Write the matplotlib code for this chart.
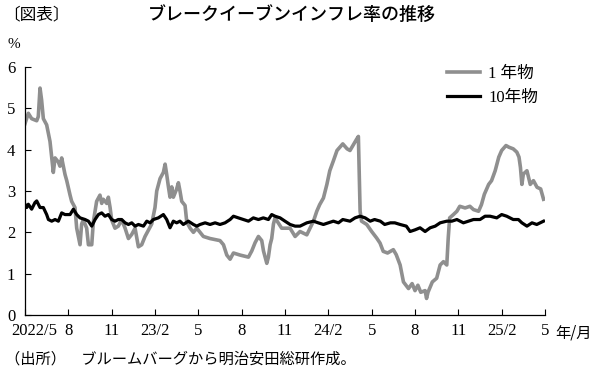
import matplotlib
matplotlib.use("Agg")
import matplotlib.pyplot as plt
import matplotlib.transforms as mtransforms

# x = months since 2022/5
gray_m = [0.00, 0.23, 0.46, 0.81, 0.92, 1.04, 1.15, 1.27, 1.50, 1.73, 1.85, 1.96, 2.08, 2.31,
          2.42, 2.54, 2.77, 2.89, 3.12, 3.23, 3.46, 3.58, 3.81, 3.92, 4.04, 4.27, 4.39, 4.62,
          4.73, 4.96, 5.19, 5.31, 5.42, 5.66, 5.77, 5.89, 6.00, 6.23, 6.46, 6.69, 6.93, 7.16,
          7.39, 7.62, 7.85, 8.08, 8.31, 8.54, 8.77, 9.00, 9.12, 9.35, 9.58, 9.70, 9.81, 9.93,
          10.04, 10.16, 10.27, 10.50, 10.62, 10.73, 10.85, 11.08, 11.20, 11.43, 11.66, 11.89,
          12.12, 12.35, 12.81, 13.50, 13.74, 13.97, 14.20, 14.43, 14.89, 15.47, 15.70, 15.93,
          16.16, 16.39, 16.51, 16.74, 16.85, 16.97, 17.08, 17.20, 17.31, 17.77, 18.35, 18.70,
          19.04, 19.51, 19.97, 20.2, 20.4, 20.66, 20.9, 21.1, 21.35, 21.6, 21.8, 22.0, 22.3,
          22.5, 22.7, 22.97, 23.08, 23.2, 23.3, 23.66, 24.0, 24.35, 24.58, 24.8, 25.1, 25.5,
          25.7, 25.97, 26.2, 26.55, 26.8, 27.0, 27.2, 27.4, 27.7, 27.8, 27.9, 28.2, 28.5,
          28.74, 28.97, 29.2, 29.3, 29.4, 29.66, 29.9, 30.1, 30.47, 30.8, 31.05, 31.4, 31.6,
          31.8, 32.1, 32.3, 32.55, 32.8, 33.0, 33.3, 33.5, 33.8, 34.05, 34.2, 34.3, 34.4,
          34.5, 34.75, 34.98, 35.2, 35.45, 35.7, 35.9]
gray_v = [4.63, 4.88, 4.75, 4.70, 4.80, 5.49, 5.20, 4.75, 4.60, 4.20, 3.80, 3.45, 3.80, 3.70,
          3.60, 3.80, 3.40, 3.25, 2.90, 2.75, 2.60, 2.10, 1.70, 2.20, 2.30, 2.10, 1.70, 1.70,
          2.25, 2.75, 2.90, 2.70, 2.80, 2.70, 2.85, 2.60, 2.30, 2.10, 2.15, 2.30, 2.10, 1.85,
          1.95, 2.10, 1.65, 1.70, 1.90, 2.05, 2.20, 2.60, 3.00, 3.30, 3.45, 3.65, 3.40, 3.10,
          2.85, 3.10, 2.85, 3.05, 3.20, 3.00, 2.75, 2.65, 2.25, 2.10, 2.00, 2.10,
          2.00, 1.90, 1.85, 1.80, 1.70, 1.45, 1.35, 1.50, 1.45, 1.40, 1.55, 1.75,
          1.90, 1.80, 1.55, 1.25, 1.40, 1.70, 1.85, 2.20, 2.35, 2.10, 2.10, 1.90,
          2.02, 1.94, 2.27, 2.51, 2.67, 2.83, 3.16, 3.49, 3.73, 3.98, 4.06, 4.14, 4.02,
          3.98, 4.10, 4.26, 4.32, 2.51, 2.27, 2.19, 2.02, 1.86, 1.74, 1.54, 1.50, 1.58,
          1.46, 1.21, 0.80, 0.64, 0.76, 0.59, 0.72, 0.55, 0.59, 0.40, 0.55, 0.80, 0.89,
          1.21, 1.29, 1.21, 1.86, 2.35, 2.43, 2.51, 2.63, 2.59, 2.63, 2.55, 2.51, 2.67,
          2.92, 3.16, 3.25, 3.49, 3.82, 3.98, 4.10, 4.06, 4.02, 3.94, 3.82, 3.57, 3.16,
          3.41, 3.49, 3.16, 3.25, 3.09, 3.05, 2.80]

black_m = [0.00, 0.12, 0.23, 0.46, 0.69, 0.81, 1.04, 1.27, 1.50, 1.62, 1.85, 2.08, 2.31, 2.54,
           2.77, 3.12, 3.35, 3.58, 3.81, 4.16, 4.39, 4.62, 4.85, 5.08, 5.31, 5.54, 5.77, 6.00,
           6.23, 6.46, 6.69, 6.93, 7.16, 7.39, 7.62, 7.85, 8.20, 8.43, 8.66, 8.89, 9.23, 9.58,
           9.81, 10.04, 10.27, 10.50, 10.73, 10.96, 11.31, 11.66, 11.89, 12.12, 12.47, 12.81,
           13.16, 13.50, 13.85, 14.20, 14.43, 14.77, 15.12, 15.47, 15.81, 16.16, 16.50, 16.85,
           17.08, 17.31, 17.66, 18.00, 18.35, 18.70, 19.04, 19.51, 19.97, 20.3, 20.66, 21.0,
           21.35, 21.7, 22.0, 22.5, 22.85, 23.2, 23.55, 23.9, 24.2, 24.6, 24.9, 25.3, 25.6,
           25.97, 26.4, 26.66, 27.0, 27.35, 27.7, 28.05, 28.4, 28.74, 29.2, 29.55, 29.9,
           30.35, 30.7, 31.05, 31.5, 31.85, 32.2, 32.66, 33.0, 33.35, 33.8, 34.16, 34.4,
           34.75, 35.1, 35.43, 35.9]
black_v = [2.68, 2.60, 2.68, 2.56, 2.72, 2.76, 2.60, 2.60, 2.43, 2.31, 2.27, 2.31, 2.27, 2.47,
           2.43, 2.43, 2.56, 2.43, 2.35, 2.31, 2.27, 2.15, 2.31, 2.43, 2.47, 2.39, 2.43, 2.31,
           2.27, 2.31, 2.31, 2.23, 2.19, 2.23, 2.15, 2.19, 2.15, 2.27, 2.23, 2.31, 2.35, 2.43,
           2.31, 2.11, 2.27, 2.23, 2.27, 2.19, 2.27, 2.19, 2.15, 2.19, 2.23, 2.19,
           2.23, 2.19, 2.23, 2.31, 2.39, 2.35, 2.31, 2.27, 2.35, 2.31, 2.35, 2.31,
           2.43, 2.39, 2.35, 2.27, 2.19, 2.15, 2.15, 2.23, 2.27, 2.23, 2.19, 2.23,
           2.27, 2.23, 2.31, 2.27, 2.35, 2.39, 2.35, 2.27, 2.31, 2.27, 2.19, 2.23, 2.23,
           2.19, 2.15, 2.02, 2.06, 2.11, 2.02, 2.11, 2.15, 2.23, 2.27, 2.27, 2.31,
           2.23, 2.27, 2.31, 2.31, 2.39, 2.39, 2.35, 2.43, 2.39, 2.31, 2.31, 2.23,
           2.15, 2.23, 2.19, 2.27]

tick_pos = [0, 3, 6, 9, 12, 15, 18, 21, 24, 27, 30, 33, 36]
tick_lab = ["2022/5", "8", "11", "23/2", "5", "8", "11", "24/2", "5", "8", "11", "25/2", "5"]

serif = ["Liberation Serif", "Noto Sans CJK JP"]
jp = ["Noto Sans CJK JP", "DejaVu Sans"]

fig = plt.figure(figsize=(6.0, 3.74), dpi=100)
ax = fig.add_axes([25 / 600, 1 - 315 / 374, 520 / 600, 248 / 374])

ax.plot(gray_m, gray_v, color="#8f8f8f", lw=2.6, solid_joinstyle="round", label="1 年物")
ax.plot(black_m, black_v, color="black", lw=2.3, solid_joinstyle="round", label="10年物")

ax.set_xlim(0, 36)
ax.set_ylim(0, 6)
ax.spines[["top", "right"]].set_visible(False)
ax.spines[["left", "bottom"]].set_linewidth(0.9)
ax.tick_params(direction="in", length=4.5, width=0.8, labelsize=12)
ax.tick_params(axis="x", pad=6)
ax.tick_params(axis="y", pad=7)
ax.set_yticks(range(7))
ax.set_xticks(tick_pos)
ax.set_xticklabels(tick_lab)
for t in ax.get_xticklabels() + ax.get_yticklabels():
    t.set_family(serif)
# first label sits a little right of centre, as in the source
first = ax.get_xticklabels()[0]
first.set_transform(first.get_transform() + mtransforms.ScaledTranslation(9 / 100, 0, fig.dpi_scale_trans))

leg = ax.legend(loc="upper right", bbox_to_anchor=(1.0, 1.03), borderaxespad=0, frameon=False,
                handlelength=2.0, handletextpad=0.5, labelspacing=0.45,
                prop={"family": serif, "size": 12})

fig.text(3 / 600, 1 - 15 / 374, "〔図表〕", family=jp, fontsize=12, va="center")
fig.text(292 / 600, 1 - 15 / 374, "ブレークイーブンインフレ率の推移", family=jp,
         fontsize=13, fontweight="medium", va="center", ha="center")
fig.text(8 / 600, 1 - 45 / 374, "%", family=serif, fontsize=11, va="center")
fig.text(555 / 600, 1 - 333 / 374, "年/月", family=jp, fontsize=11, va="center")
fig.text(5 / 600, 1 - 359 / 374, "（出所）　ブルームバーグから明治安田総研作成。",
         family=jp, fontsize=11, va="center")

fig.savefig("out.png", dpi=100)
